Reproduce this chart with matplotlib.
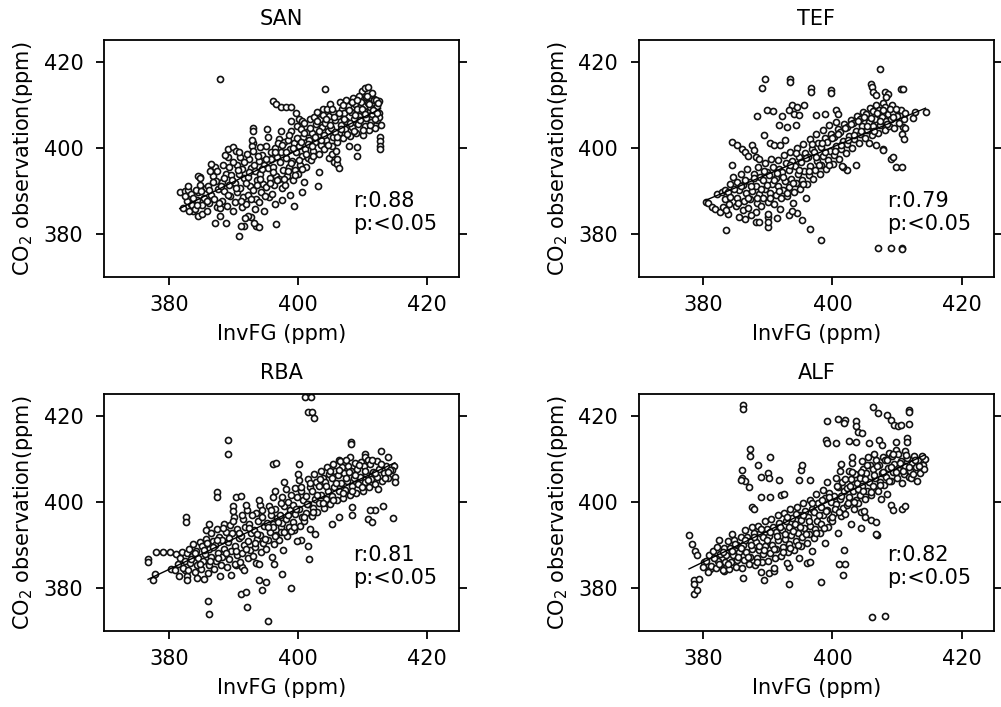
import numpy as np
import matplotlib
matplotlib.use("Agg")
import matplotlib.pyplot as plt

# Station names and correlation stats shown in each panel
stations = ["SAN", "TEF", "RBA", "ALF"]
r_values = ["0.88", "0.79", "0.81", "0.82"]
p_values = ["<0.05", "<0.05", "<0.05", "<0.05"]

axis_ticks = [380, 400, 420]

# (InvFG, observation) pairs, ppm
san_points = [
    (387.9, 416.0), (404.2, 413.6), (409.9, 413.2), (410.4, 414.0), (410.9, 414.2),
    (411.7, 411.3), (412.5, 410.8), (396.1, 410.9), (396.6, 410.1), (397.3, 409.5),
    (398.1, 409.5), (398.9, 409.5), (399.7, 408.2), (398.9, 406.3), (400.2, 406.7),
    (400.7, 406.3), (393.0, 404.7), (393.0, 403.9), (393.0, 401.2), (392.9, 400.5),
    (389.1, 399.7), (389.9, 400.1), (390.4, 399.3), (412.7, 402.4), (412.7, 401.6),
    (412.7, 400.5), (412.7, 399.7), (409.1, 400.1), (409.1, 398.1), (407.9, 400.5),
    (404.8, 397.7), (405.6, 396.6), (406.1, 396.2), (406.3, 395.4), (406.1, 397.4),
    (405.3, 398.5), (403.2, 394.3), (403.1, 391.2), (400.7, 389.6), (399.4, 386.5),
    (396.6, 382.2), (390.9, 379.5), (391.7, 381.9), (391.2, 381.9), (393.5, 381.9),
    (394.0, 381.5), (393.2, 382.6), (392.7, 383.8), (392.2, 384.2), (387.1, 382.6),
    (388.9, 382.6), (387.9, 384.2), (381.7, 389.6), (382.5, 390.0), (383.0, 390.1),
    (383.8, 385.3), (384.5, 384.2), (383.5, 386.9), (384.8, 393.1), (384.5, 393.5),
    (382.2, 386.0), (382.8, 387.5), (383.1, 385.2), (382.5, 388.8), (383.4, 389.2),
    (383.0, 391.0), (383.6, 386.6), (384.0, 385.8), (384.3, 387.9), (384.6, 389.6),
    (384.9, 391.4), (385.2, 386.8), (384.8, 393.0), (385.5, 388.4), (385.1, 384.6),
    (385.7, 390.6), (384.2, 390.2), (386.0, 385.3), (386.3, 387.2), (386.6, 389.1),
    (386.1, 391.2), (386.8, 393.4), (387.1, 395.6), (387.4, 386.3), (387.0, 388.0),
    (386.5, 396.2), (387.6, 390.4), (386.4, 394.6), (387.3, 392.2), (388.0, 385.9),
    (388.3, 387.6), (388.6, 389.9), (388.2, 392.1), (388.9, 394.0), (388.4, 396.0),
    (389.2, 397.8), (389.0, 386.4), (389.5, 388.8), (389.3, 391.4), (389.7, 393.6),
    (388.7, 398.4), (389.4, 395.5), (390.0, 385.4), (390.3, 387.4), (390.6, 389.6),
    (390.2, 391.8), (390.8, 393.9), (390.5, 396.0), (391.0, 397.8), (391.3, 386.2),
    (391.5, 388.6), (391.1, 390.7), (391.7, 392.9), (391.4, 395.1), (390.9, 399.0),
    (391.8, 383.6), (392.0, 386.9), (392.3, 389.0), (392.6, 391.0), (392.2, 393.3),
    (392.8, 395.4), (392.5, 397.5), (393.0, 399.2), (393.3, 385.8), (393.5, 388.1),
    (393.1, 390.2), (393.7, 392.6), (393.4, 394.7), (393.9, 397.0), (392.9, 401.9),
    (394.0, 387.4), (394.3, 389.6), (394.6, 391.6), (394.2, 393.9), (394.8, 396.1),
    (394.5, 398.3), (395.0, 400.4), (395.3, 402.6), (395.5, 388.5), (395.1, 390.8),
    (395.7, 393.0), (395.4, 395.2), (395.9, 397.4), (394.7, 385.2), (395.2, 404.3),
    (396.0, 389.2), (396.3, 391.3), (396.6, 393.5), (396.2, 395.6), (396.8, 397.8),
    (396.5, 400.0), (397.0, 402.1), (397.3, 404.0), (397.5, 390.6), (397.1, 392.8),
    (397.7, 394.9), (397.4, 399.0), (397.9, 401.3), (396.4, 386.9), (397.6, 387.8),
    (398.0, 391.4), (398.3, 393.4), (398.6, 395.6), (398.2, 397.7), (398.8, 399.8),
    (398.5, 401.9), (399.0, 403.8), (399.3, 392.6), (399.5, 394.8), (399.1, 396.9),
    (399.7, 398.9), (399.4, 401.0), (399.9, 405.0), (398.7, 389.0), (400.0, 394.0),
    (400.3, 396.1), (400.6, 398.2), (400.2, 400.3), (400.8, 402.4), (400.5, 404.3),
    (401.0, 405.8), (401.3, 395.5), (401.5, 397.6), (401.1, 399.7), (401.7, 401.8),
    (401.4, 403.7), (401.9, 406.8), (400.9, 392.0), (402.0, 397.2), (402.3, 399.3),
    (402.6, 401.4), (402.2, 403.5), (402.8, 405.5), (402.5, 407.1), (403.0, 408.3),
    (403.3, 398.6), (403.5, 400.7), (403.1, 402.8), (403.7, 404.9), (403.4, 406.7),
    (403.9, 409.1), (404.0, 399.6), (404.3, 401.7), (404.6, 403.8), (404.2, 405.7),
    (404.8, 407.4), (404.5, 409.0), (405.0, 410.2), (405.3, 400.4), (405.5, 402.5),
    (405.1, 404.6), (405.7, 406.5), (405.4, 408.3), (405.9, 399.2), (406.0, 401.3),
    (406.3, 403.4), (406.6, 405.4), (406.2, 407.3), (406.8, 409.0), (406.5, 410.6),
    (407.0, 402.2), (407.3, 404.3), (407.5, 406.2), (407.1, 408.0), (407.7, 409.7),
    (407.4, 411.2), (408.0, 402.7), (408.3, 404.8), (408.6, 406.7), (408.2, 408.4),
    (408.8, 410.1), (408.5, 411.5), (409.0, 403.5), (409.3, 405.6), (409.5, 407.4),
    (409.1, 409.1), (409.7, 410.7), (409.4, 412.0), (410.0, 403.0), (410.3, 405.1),
    (410.6, 406.9), (410.2, 408.6), (410.8, 410.3), (410.5, 411.8), (411.0, 404.2),
    (411.3, 406.1), (411.5, 407.9), (411.1, 409.5), (411.7, 411.0), (411.4, 412.8),
    (412.0, 404.5), (412.3, 406.4), (412.6, 408.2), (412.2, 409.8), (412.8, 405.4),
    (412.5, 407.2), (412.1, 411.2),
    (383.7, 388.3), (384.4, 386.7), (385.0, 389.9), (385.9, 387.7), (386.2, 390.1),
    (386.9, 392.0), (387.8, 387.2), (387.5, 394.6), (388.1, 391.0), (388.5, 393.0),
    (389.1, 389.0), (389.8, 392.4), (389.9, 396.6), (390.4, 390.7), (390.7, 394.9),
    (391.2, 387.5), (391.6, 396.6), (391.9, 391.7), (392.4, 394.4), (392.7, 388.0),
    (392.1, 398.5), (393.2, 396.0), (393.6, 391.3), (393.8, 398.2), (394.1, 392.7),
    (394.4, 395.0), (394.9, 388.8), (394.1, 400.2), (395.6, 391.9), (395.0, 397.3),
    (395.8, 399.0), (396.1, 394.4), (396.7, 392.4), (396.4, 398.9), (396.9, 401.2),
    (397.2, 396.7), (397.8, 392.8), (397.5, 400.6), (398.1, 399.0), (398.4, 394.5),
    (398.9, 396.5), (398.6, 403.0), (399.2, 400.0), (399.6, 393.6), (399.8, 402.2),
    (400.1, 397.2), (400.4, 401.4), (400.7, 395.1), (400.9, 403.4), (401.2, 398.6),
    (401.6, 400.8), (401.8, 404.6), (402.1, 400.3), (402.4, 398.2), (402.7, 402.5),
    (402.9, 406.2), (403.2, 404.0), (403.6, 401.7), (403.8, 407.7), (404.1, 403.0),
    (404.4, 406.6), (404.7, 400.6), (404.9, 405.2), (405.2, 409.1), (405.6, 407.2),
    (405.8, 403.6), (406.1, 402.4), (406.4, 408.2), (406.7, 404.4), (406.9, 410.0),
    (407.2, 406.6), (407.6, 403.2), (407.9, 408.9), (408.1, 405.8), (408.4, 410.6),
    (408.7, 403.8), (408.9, 407.6), (409.2, 411.2), (409.6, 406.5), (409.9, 409.0),
    (410.1, 404.1), (410.4, 407.8), (410.7, 412.0), (411.0, 410.2), (411.2, 405.2),
    (411.6, 408.7), (411.9, 406.8), (412.2, 408.2), (412.4, 410.4),
]

tef_points = [
    (407.4, 418.4), (389.5, 415.9), (389.1, 413.8), (393.5, 415.9), (393.5, 415.3),
    (396.7, 413.8), (396.7, 413.0), (399.7, 413.4), (399.7, 412.8), (410.6, 413.6),
    (410.9, 413.6), (406.0, 414.9), (406.1, 414.2), (406.2, 413.0), (406.8, 412.2),
    (408.1, 413.0), (408.6, 412.6), (408.3, 411.8), (389.9, 408.9), (390.8, 408.6),
    (388.3, 407.3), (392.2, 407.3), (393.8, 409.9), (394.5, 409.5), (393.2, 408.7),
    (395.6, 409.9), (394.0, 407.9), (394.8, 407.6), (397.4, 407.6), (398.9, 407.8),
    (400.5, 408.9), (400.8, 407.9), (391.7, 405.2), (393.0, 404.9), (394.3, 405.2),
    (389.4, 402.9), (390.4, 401.0), (390.9, 400.6), (392.7, 401.7), (391.9, 400.6),
    (384.4, 401.4), (385.2, 400.6), (386.0, 399.8), (386.5, 399.0), (387.0, 398.2),
    (387.5, 400.6), (387.8, 399.4), (388.1, 397.9), (388.6, 397.5), (384.5, 395.9),
    (403.6, 395.9), (402.3, 394.8), (401.6, 395.5), (409.1, 397.5), (409.4, 397.9),
    (409.9, 395.5), (410.8, 395.5), (405.7, 401.0), (407.8, 399.8), (407.8, 399.4),
    (406.8, 400.6), (410.8, 403.3), (411.0, 402.1), (412.5, 407.0), (414.4, 408.3),
    (412.7, 408.3), (410.9, 404.9), (411.2, 404.5), (383.6, 380.8), (386.5, 383.5),
    (388.1, 382.7), (388.6, 382.7), (390.1, 383.9), (391.4, 383.6), (393.2, 384.3),
    (394.5, 384.8), (393.8, 385.3), (395.3, 383.1), (396.5, 381.0), (398.2, 378.6),
    (390.0, 381.6), (390.1, 382.7), (407.0, 376.7), (409.0, 376.7), (410.8, 376.7),
    (410.8, 376.5), (380.4, 387.4), (380.8, 387.1), (381.3, 386.2), (381.8, 385.8),
    (382.6, 385.0), (383.9, 384.7), (382.1, 389.3), (382.9, 389.7), (383.4, 390.1),
    (383.0, 386.2), (383.4, 388.0), (383.8, 389.8), (384.2, 391.6), (384.0, 387.0),
    (384.6, 393.3), (383.6, 385.6), (385.0, 386.4), (385.3, 388.2), (385.6, 390.1),
    (385.2, 392.0), (385.8, 393.8), (386.1, 385.5), (386.3, 387.5), (386.6, 389.4),
    (386.2, 391.3), (386.8, 395.0), (385.5, 383.8), (387.0, 386.0), (387.3, 388.0),
    (387.6, 390.0), (387.2, 392.1), (387.8, 394.0), (388.1, 385.1), (388.3, 387.2),
    (388.6, 389.2), (388.2, 391.2), (388.8, 393.3), (388.5, 395.6), (387.4, 384.3),
    (389.0, 386.4), (389.3, 388.4), (389.6, 390.4), (389.2, 392.4), (389.8, 394.4),
    (389.5, 396.4), (390.1, 387.4), (390.3, 389.4), (390.6, 391.5), (390.2, 393.6),
    (390.8, 395.6), (390.5, 397.4), (390.0, 384.6), (391.0, 387.0), (391.3, 389.0),
    (391.6, 391.0), (391.2, 393.0), (391.8, 395.1), (391.5, 397.2), (392.1, 388.2),
    (392.3, 390.2), (392.6, 392.3), (392.2, 394.4), (392.8, 396.4), (392.5, 398.4),
    (391.9, 385.8), (393.0, 388.8), (393.3, 390.8), (393.6, 392.8), (393.2, 394.9),
    (393.8, 396.9), (393.5, 399.0), (394.1, 389.6), (394.3, 391.7), (394.6, 393.8),
    (394.2, 395.8), (394.8, 397.8), (394.5, 400.0), (393.9, 387.2), (395.0, 390.5),
    (395.3, 392.5), (395.6, 394.6), (395.2, 396.6), (395.8, 398.7), (395.5, 400.8),
    (396.1, 391.6), (396.3, 393.6), (396.6, 395.7), (396.2, 397.8), (396.8, 399.8),
    (396.5, 402.0), (395.9, 388.4), (397.0, 392.8), (397.3, 394.9), (397.6, 396.9),
    (397.2, 399.0), (397.8, 401.0), (397.5, 403.1), (398.1, 393.8), (398.3, 395.9),
    (398.6, 398.0), (398.2, 400.1), (398.8, 402.2), (398.5, 404.2), (399.0, 395.0),
    (399.3, 397.1), (399.6, 399.2), (399.2, 401.3), (399.8, 403.3), (399.5, 405.2),
    (400.1, 396.2), (400.3, 398.3), (400.6, 400.4), (400.2, 402.4), (400.8, 404.4),
    (400.5, 406.0), (401.0, 397.5), (401.3, 399.6), (401.6, 401.6), (401.2, 403.6),
    (401.8, 405.5), (402.1, 398.7), (402.3, 400.8), (402.6, 402.8), (402.2, 404.8),
    (402.8, 406.5), (401.5, 395.8), (403.0, 400.0), (403.3, 402.0), (403.6, 404.0),
    (403.2, 405.8), (403.8, 407.3), (404.1, 401.0), (404.3, 403.1), (404.6, 405.0),
    (404.2, 406.8), (404.8, 408.3), (405.0, 402.2), (405.3, 404.1), (405.6, 406.0),
    (405.2, 407.8), (405.8, 409.2), (406.1, 403.0), (406.3, 405.0), (406.6, 406.8),
    (406.2, 408.6), (406.8, 410.0), (407.0, 403.4), (407.3, 405.4), (407.6, 407.2),
    (407.2, 408.9), (407.8, 410.4), (408.1, 404.2), (408.3, 406.2), (408.6, 407.8),
    (408.2, 409.4), (408.8, 405.0), (409.0, 406.6), (409.3, 408.2), (409.6, 404.6),
    (409.2, 410.0), (410.0, 407.4), (410.3, 405.8), (410.6, 408.8), (411.0, 406.8),
    (411.3, 408.0),
    (384.1, 388.5), (384.8, 390.5), (385.4, 387.2), (385.9, 391.0), (386.4, 392.6),
    (386.9, 388.3), (387.4, 391.0), (387.9, 392.9), (388.4, 388.2), (388.9, 390.3),
    (389.4, 394.6), (389.9, 391.4), (390.4, 388.4), (390.9, 392.5), (391.4, 394.1),
    (391.8, 390.0), (392.4, 393.3), (392.9, 389.5), (393.4, 395.9), (393.9, 391.8),
    (394.4, 398.8), (394.9, 394.8), (395.4, 391.5), (395.9, 397.7), (396.4, 394.7),
    (396.9, 400.9), (397.4, 397.9), (397.9, 395.9), (398.4, 401.2), (398.9, 398.9),
    (399.4, 396.0), (399.9, 402.3), (400.4, 399.3), (400.9, 403.3), (401.4, 400.6),
    (401.9, 404.6), (402.4, 401.8), (402.9, 405.6), (403.4, 403.0), (403.9, 406.3),
    (404.4, 404.0), (404.9, 407.2), (405.4, 405.0), (405.9, 407.0), (406.4, 404.0),
    (406.9, 408.1), (407.4, 406.3), (407.9, 408.8), (408.4, 405.6), (408.9, 409.0),
    (409.4, 407.2), (409.8, 409.0),
]

rba_points = [
    (401.1, 424.3), (402.0, 424.3), (401.5, 420.8), (402.2, 420.8), (402.5, 419.5),
    (389.1, 414.3), (389.1, 411.1), (408.2, 414.0), (408.2, 413.4), (410.4, 411.1),
    (410.4, 410.5), (412.9, 411.9), (414.0, 410.5), (408.1, 410.4), (406.3, 409.6),
    (396.1, 408.8), (396.6, 408.9), (400.2, 408.8), (387.4, 402.2), (387.4, 401.2),
    (382.6, 396.4), (382.6, 395.2), (376.8, 386.7), (376.8, 385.9), (378.1, 388.3),
    (379.1, 388.3), (380.2, 388.3), (381.2, 387.9), (382.0, 388.3), (377.6, 381.7),
    (377.9, 383.2), (380.4, 384.4), (382.5, 384.0), (382.8, 382.8), (382.8, 381.7),
    (386.1, 377.0), (386.2, 373.9), (391.2, 378.6), (392.0, 379.0), (392.1, 375.6),
    (395.4, 372.2), (394.5, 379.4), (395.0, 381.3), (394.0, 381.7), (399.0, 380.0),
    (397.5, 383.1), (396.3, 385.6), (401.7, 386.6), (400.4, 391.0), (401.5, 389.8),
    (413.2, 398.9), (414.7, 396.2), (410.9, 396.0), (411.4, 395.2), (412.0, 398.1),
    (411.2, 398.1), (408.4, 398.7), (408.4, 396.8), (415.0, 405.7), (415.0, 404.5),
    (414.8, 408.4), (414.5, 407.3), (396.1, 394.8), (397.4, 394.1), (399.4, 393.3),
    (402.7, 392.5), (405.3, 394.8), (406.3, 396.4), (390.4, 401.0), (391.2, 401.4),
    (389.9, 399.1), (386.3, 394.8), (385.8, 393.3), (393.5, 385.7), (390.4, 385.2),
    (391.4, 384.8), (381.0, 384.0), (381.4, 385.6), (381.8, 387.0), (382.2, 384.6),
    (382.5, 386.2), (381.6, 382.8), (382.8, 388.0), (383.0, 384.2), (383.3, 385.8),
    (383.6, 387.4), (383.2, 389.0), (383.8, 390.2), (384.1, 383.6), (384.3, 385.2),
    (384.6, 386.9), (384.2, 388.6), (384.8, 390.6), (384.4, 382.2), (385.0, 384.4),
    (385.3, 386.1), (385.6, 387.8), (385.2, 389.6), (385.8, 391.4), (386.1, 383.5),
    (386.3, 385.3), (386.6, 387.1), (386.2, 388.9), (386.8, 390.8), (386.5, 392.6),
    (385.5, 382.0), (387.0, 384.3), (387.3, 386.1), (387.6, 388.0), (387.2, 389.9),
    (387.8, 391.8), (387.5, 393.6), (388.1, 385.2), (388.3, 387.1), (388.6, 389.0),
    (388.2, 391.0), (388.8, 392.9), (388.5, 394.8), (387.9, 382.6), (389.0, 384.8),
    (389.3, 386.7), (389.6, 388.6), (389.2, 390.6), (389.8, 392.6), (389.5, 394.6),
    (390.1, 396.4), (390.3, 385.6), (390.6, 387.6), (390.2, 389.6), (390.8, 391.6),
    (390.5, 393.6), (390.0, 397.8), (389.7, 383.0), (391.0, 386.0), (391.3, 388.0),
    (391.6, 390.0), (391.2, 392.0), (391.8, 394.0), (391.5, 396.0), (392.1, 398.0),
    (392.3, 386.8), (392.6, 388.8), (392.2, 390.8), (392.8, 392.8), (392.5, 394.8),
    (392.0, 399.2), (391.7, 384.2), (393.0, 387.4), (393.3, 389.4), (393.6, 391.4),
    (393.2, 393.4), (393.8, 395.4), (393.5, 397.4), (394.1, 399.2), (394.3, 388.3),
    (394.6, 390.3), (394.2, 392.3), (394.8, 394.4), (394.5, 396.4), (394.0, 385.6),
    (393.9, 400.4), (395.0, 389.0), (395.3, 391.0), (395.6, 393.0), (395.2, 395.0),
    (395.8, 397.0), (395.5, 399.0), (396.1, 401.0), (396.3, 390.2), (396.6, 392.2),
    (396.2, 394.2), (396.8, 396.2), (396.5, 398.2), (396.0, 387.2), (396.4, 402.6),
    (397.0, 391.0), (397.3, 393.0), (397.6, 395.0), (397.2, 397.0), (397.8, 399.0),
    (397.5, 401.0), (398.1, 403.0), (398.3, 392.0), (398.6, 394.0), (398.2, 396.0),
    (398.8, 398.0), (398.5, 400.0), (397.9, 404.6), (397.7, 388.8), (399.0, 393.2),
    (399.3, 395.2), (399.6, 397.2), (399.2, 399.2), (399.8, 401.2), (399.5, 403.2),
    (400.1, 405.0), (400.3, 394.4), (400.6, 396.4), (400.2, 398.4), (400.8, 400.4),
    (400.5, 402.4), (399.9, 390.8), (400.0, 406.4), (401.0, 395.4), (401.3, 397.4),
    (401.6, 399.4), (401.2, 401.4), (401.8, 403.4), (401.5, 405.2), (402.1, 396.6),
    (402.3, 398.6), (402.6, 400.6), (402.2, 402.6), (402.8, 404.6), (402.5, 406.4),
    (401.9, 393.6), (403.0, 397.6), (403.3, 399.6), (403.6, 401.6), (403.2, 403.6),
    (403.8, 405.6), (403.5, 407.2), (404.1, 398.6), (404.3, 400.6), (404.6, 402.6),
    (404.2, 404.6), (404.8, 406.4), (404.5, 408.0), (405.0, 399.4), (405.3, 401.4),
    (405.6, 403.4), (405.2, 405.4), (405.8, 407.2), (405.5, 408.8), (406.1, 400.4),
    (406.3, 402.4), (406.6, 404.4), (406.2, 406.2), (406.8, 408.0), (406.5, 409.4),
    (407.0, 400.8), (407.3, 402.8), (407.6, 404.8), (407.2, 406.6), (407.8, 408.4),
    (407.5, 409.8), (408.1, 401.6), (408.3, 403.6), (408.6, 405.4), (408.2, 407.2),
    (408.8, 409.0), (409.0, 402.0), (409.3, 404.0), (409.6, 405.8), (409.2, 407.6),
    (409.8, 409.2), (410.1, 402.6), (410.3, 404.6), (410.6, 406.4), (410.2, 408.2),
    (410.8, 409.6), (411.0, 403.4), (411.3, 405.2), (411.6, 407.0), (411.2, 408.8),
    (412.0, 404.0), (412.3, 405.8), (412.6, 407.6), (412.2, 409.4), (413.0, 404.8),
    (413.3, 406.6), (413.6, 408.4), (414.0, 405.6), (414.3, 407.4),
    (383.5, 386.6), (384.0, 388.0), (384.9, 385.6), (385.4, 388.7), (385.9, 390.5),
    (386.4, 386.2), (386.9, 389.4), (387.4, 391.0), (387.7, 387.0), (388.4, 393.8),
    (388.9, 388.0), (389.4, 391.6), (389.9, 395.4), (390.4, 388.6), (390.9, 392.6),
    (391.4, 397.0), (391.9, 389.0), (392.4, 393.8), (392.9, 396.8), (393.4, 390.4),
    (393.7, 392.4), (394.4, 398.0), (394.9, 391.4), (395.4, 394.0), (395.9, 398.0),
    (396.4, 392.0), (396.9, 395.2), (397.4, 399.8), (397.9, 393.0), (398.4, 397.0),
    (398.9, 401.6), (399.4, 394.2), (399.7, 398.2), (400.4, 403.4), (400.9, 396.4),
    (401.4, 399.4), (401.9, 404.4), (402.4, 397.6), (402.9, 401.6), (403.4, 405.2),
    (403.9, 399.6), (404.4, 403.6), (404.9, 407.2), (405.4, 400.4), (405.9, 404.4),
    (406.4, 407.4), (406.9, 402.0), (407.4, 405.6), (407.9, 407.0), (408.4, 402.6),
    (408.9, 406.2), (409.4, 408.6), (409.9, 403.4), (410.4, 407.2), (410.9, 405.0),
    (411.4, 409.6), (411.9, 406.6), (412.4, 403.0), (412.9, 408.8), (413.4, 405.4),
    (413.9, 407.0),
]

alf_points = [
    (386.1, 422.6), (386.1, 421.6), (406.3, 422.0), (407.1, 420.6), (408.5, 420.2),
    (409.0, 419.1), (409.5, 417.9), (410.1, 417.5), (410.6, 417.9), (411.8, 421.4),
    (411.8, 420.8), (411.8, 418.1), (399.1, 418.7), (400.9, 419.2), (402.0, 419.1),
    (401.8, 418.4), (403.6, 418.7), (403.6, 417.5), (404.0, 416.3), (404.6, 415.9),
    (399.0, 414.4), (399.2, 413.6), (400.6, 413.6), (402.6, 414.2), (403.6, 414.0),
    (405.6, 413.6), (407.2, 414.4), (407.6, 413.2), (409.8, 414.0), (411.6, 414.8),
    (411.6, 414.0), (387.2, 412.2), (387.2, 410.7), (388.5, 408.6), (390.4, 410.3),
    (390.1, 406.6), (390.2, 405.4), (388.9, 405.8), (391.7, 405.0), (392.0, 401.5),
    (392.5, 401.9), (386.0, 407.4), (386.0, 405.4), (386.5, 404.7), (387.1, 403.5),
    (385.8, 405.0), (395.1, 407.4), (395.3, 408.6), (394.8, 405.0), (396.6, 405.0),
    (388.9, 401.2), (390.4, 401.2), (387.6, 398.8), (387.8, 398.4), (409.0, 399.2),
    (409.3, 398.1), (410.8, 398.4), (411.3, 399.0), (413.1, 404.7), (404.4, 397.7),
    (405.1, 396.5), (405.9, 395.7), (406.7, 395.3), (406.9, 392.2), (404.4, 393.8),
    (377.8, 392.2), (378.2, 390.1), (378.8, 388.6), (379.1, 387.5), (380.1, 386.0),
    (381.1, 384.4), (378.6, 381.7), (378.6, 380.8), (378.6, 378.6), (379.1, 379.4),
    (379.3, 382.1), (383.2, 383.8), (386.1, 382.3), (389.4, 381.7), (390.2, 383.4),
    (390.9, 383.8), (393.3, 380.8), (393.3, 384.8), (396.0, 385.8), (396.6, 386.0),
    (398.3, 381.3), (401.0, 385.6), (401.9, 385.6), (401.6, 382.9), (401.8, 388.7),
    (406.1, 373.2), (408.1, 373.5), (406.8, 392.4), (380.0, 384.8), (380.5, 386.2),
    (380.9, 387.6), (381.2, 385.0), (380.7, 383.6), (381.5, 388.6), (382.0, 384.6),
    (382.3, 386.2), (382.6, 387.8), (382.2, 389.4), (382.8, 385.4), (383.1, 384.2),
    (383.3, 386.0), (383.6, 387.6), (383.2, 389.2), (383.8, 390.8), (382.5, 391.0),
    (384.0, 384.4), (384.3, 386.0), (384.6, 387.6), (384.2, 389.3), (384.8, 391.0),
    (385.1, 384.8), (385.3, 386.5), (385.6, 388.2), (385.2, 390.0), (385.8, 391.8),
    (384.5, 392.4), (386.0, 384.6), (386.3, 386.4), (386.6, 388.2), (386.2, 390.0),
    (386.8, 391.8), (386.5, 393.5), (387.1, 385.4), (387.3, 387.2), (387.6, 389.0),
    (387.2, 390.8), (387.8, 392.6), (387.5, 394.2), (388.0, 385.2), (388.3, 387.0),
    (388.6, 388.8), (388.2, 390.7), (388.8, 392.6), (388.5, 394.4), (389.1, 386.0),
    (389.3, 387.9), (389.6, 389.8), (389.2, 391.7), (389.8, 393.6), (389.5, 395.4),
    (388.9, 383.6), (390.0, 386.2), (390.3, 388.1), (390.6, 390.0), (390.2, 392.0),
    (390.8, 394.0), (390.5, 396.0), (391.1, 387.0), (391.3, 389.0), (391.6, 391.0),
    (391.2, 393.0), (391.8, 395.0), (391.5, 397.0), (390.9, 384.6), (392.0, 387.4),
    (392.3, 389.4), (392.6, 391.4), (392.2, 393.4), (392.8, 395.4), (392.5, 397.4),
    (393.1, 388.2), (393.3, 390.2), (393.6, 392.2), (393.2, 394.2), (393.8, 396.2),
    (393.5, 398.2), (392.9, 385.8), (394.0, 388.8), (394.3, 390.8), (394.6, 392.8),
    (394.2, 394.8), (394.8, 396.8), (394.5, 398.8), (395.1, 389.8), (395.3, 391.8),
    (395.6, 393.8), (395.2, 395.8), (395.8, 397.8), (395.5, 399.6), (394.9, 387.0),
    (396.0, 390.4), (396.3, 392.4), (396.6, 394.4), (396.2, 396.4), (396.8, 398.4),
    (396.5, 400.4), (397.1, 391.6), (397.3, 393.6), (397.6, 395.6), (397.2, 397.6),
    (397.8, 399.6), (397.5, 401.8), (396.9, 388.6), (398.0, 392.8), (398.3, 394.8),
    (398.6, 396.8), (398.2, 398.8), (398.8, 400.8), (398.5, 402.8), (399.1, 404.6),
    (399.3, 394.0), (399.6, 396.0), (399.2, 398.0), (399.8, 400.0), (399.5, 402.0),
    (398.9, 390.4), (400.0, 395.4), (400.3, 397.4), (400.6, 399.4), (400.2, 401.4),
    (400.8, 403.4), (400.5, 405.4), (401.1, 407.2), (401.3, 396.6), (401.6, 398.6),
    (401.2, 400.6), (401.8, 402.6), (401.5, 404.6), (400.9, 392.8), (401.4, 408.8),
    (402.0, 397.2), (402.3, 399.2), (402.6, 401.2), (402.2, 403.2), (402.8, 405.2),
    (402.5, 407.2), (403.1, 409.0), (403.3, 398.4), (403.6, 400.4), (403.2, 402.4),
    (403.8, 404.4), (403.5, 406.4), (402.9, 394.8), (403.0, 410.4), (404.0, 399.6),
    (404.3, 401.6), (404.6, 403.6), (404.2, 405.6), (404.8, 407.6), (404.5, 409.4),
    (405.1, 400.6), (405.3, 402.6), (405.6, 404.6), (405.2, 406.6), (405.8, 408.6),
    (405.5, 410.4), (404.9, 397.8), (406.0, 401.6), (406.3, 403.6), (406.6, 405.6),
    (406.2, 407.6), (406.8, 409.6), (406.5, 411.0), (407.1, 402.6), (407.3, 404.6),
    (407.6, 406.6), (407.2, 408.6), (407.8, 410.4), (407.5, 400.6), (408.0, 403.8),
    (408.3, 405.8), (408.6, 407.8), (408.2, 409.8), (408.8, 411.4), (409.1, 404.8),
    (409.3, 406.8), (409.6, 408.8), (409.2, 410.6), (409.8, 412.0), (408.5, 401.8),
    (410.0, 405.4), (410.3, 407.4), (410.6, 409.4), (410.2, 411.2), (410.8, 404.4),
    (411.1, 406.4), (411.3, 408.4), (411.6, 410.2), (411.2, 411.8), (411.8, 405.8),
    (412.0, 407.2), (412.3, 409.0), (412.6, 410.6), (412.2, 405.6), (413.0, 408.0),
    (413.3, 409.6), (413.6, 406.6), (414.0, 408.6), (414.3, 410.0), (414.2, 407.6),
    (381.7, 386.8), (382.4, 385.4), (383.0, 388.4), (383.9, 385.6), (384.4, 388.6),
    (384.9, 390.2), (385.4, 387.2), (385.9, 389.2), (386.4, 391.2), (386.9, 387.2),
    (387.4, 389.9), (387.9, 391.7), (388.4, 386.0), (388.7, 389.8), (389.0, 393.6),
    (389.4, 388.8), (389.9, 391.0), (390.4, 393.0), (390.9, 389.0), (391.4, 392.0),
    (391.9, 394.0), (392.4, 388.4), (392.7, 392.4), (393.0, 396.4), (393.4, 389.2),
    (393.9, 393.2), (394.4, 397.2), (394.7, 390.0), (395.0, 394.0), (395.4, 397.0),
    (395.9, 392.4), (396.4, 395.4), (396.9, 399.6), (397.4, 392.6), (397.9, 397.0),
    (398.4, 400.4), (398.7, 393.8), (399.0, 397.8), (399.4, 401.2), (399.9, 396.4),
    (400.4, 398.4), (400.7, 403.6), (401.0, 397.6), (401.4, 401.4), (401.9, 405.2),
    (402.4, 399.8), (402.7, 403.6), (403.0, 406.8), (403.4, 400.0), (403.9, 403.0),
    (404.4, 407.0), (404.7, 402.6), (405.0, 405.2), (405.4, 408.6), (405.9, 402.2),
    (406.4, 406.2), (406.9, 408.4), (407.4, 403.8), (407.9, 406.8), (408.4, 409.6),
    (408.7, 404.8), (409.0, 408.0), (409.4, 411.2), (409.9, 406.8), (410.4, 409.0),
    (410.9, 407.2), (411.4, 410.8), (411.9, 408.0), (412.4, 406.4), (412.8, 409.6),
    (413.4, 408.2), (413.9, 410.6),
]

all_points = [san_points, tef_points, rba_points, alf_points]


def run() -> None:
    plt.rcParams["font.family"] = ["DejaVu Sans"]
    fs = 15

    fig, axes = plt.subplots(2, 2, figsize=(10.01, 7.07), dpi=100)
    fig.subplots_adjust(left=0.104, right=0.993, top=0.943, bottom=0.108,
                        wspace=0.504, hspace=0.497)

    for ax, name, pts, r, p in zip(axes.flat, stations, all_points, r_values, p_values):
        pts = np.array(pts)
        x, y = pts[:, 0], pts[:, 1]

        ax.scatter(x, y, s=19, facecolors="white", edgecolors="#111111",
                   linewidths=1.2, zorder=2)

        # least squares line across the data range
        slope, intercept = np.polyfit(x, y, 1)
        xs = np.array([x.min(), x.max()])
        ax.plot(xs, slope * xs + intercept, color="black", lw=1, zorder=3)

        ax.text(408.5, 385, f"r:{r}\np:{p}", ha="left", va="center", fontsize=fs)

        ax.set_xlim(370, 425)
        ax.set_ylim(370, 425)
        ax.set_xticks(axis_ticks)
        ax.set_yticks(axis_ticks)
        ax.tick_params(left=True, right=True, bottom=True, top=False,
                       direction="out", length=6, width=1.3, labelsize=fs)
        ax.tick_params(axis="y", pad=9)
        ax.tick_params(axis="x", pad=7)
        for sp in ax.spines.values():
            sp.set_linewidth(1.3)

        ax.set_title(name, fontsize=fs, pad=11)
        ax.set_xlabel("InvFG (ppm)", fontsize=fs, labelpad=7)
        ax.set_ylabel("CO$_2$ observation(ppm)", fontsize=fs, labelpad=6)

    fig.savefig("out.png", dpi=100)


if __name__ == "__main__":
    run()
